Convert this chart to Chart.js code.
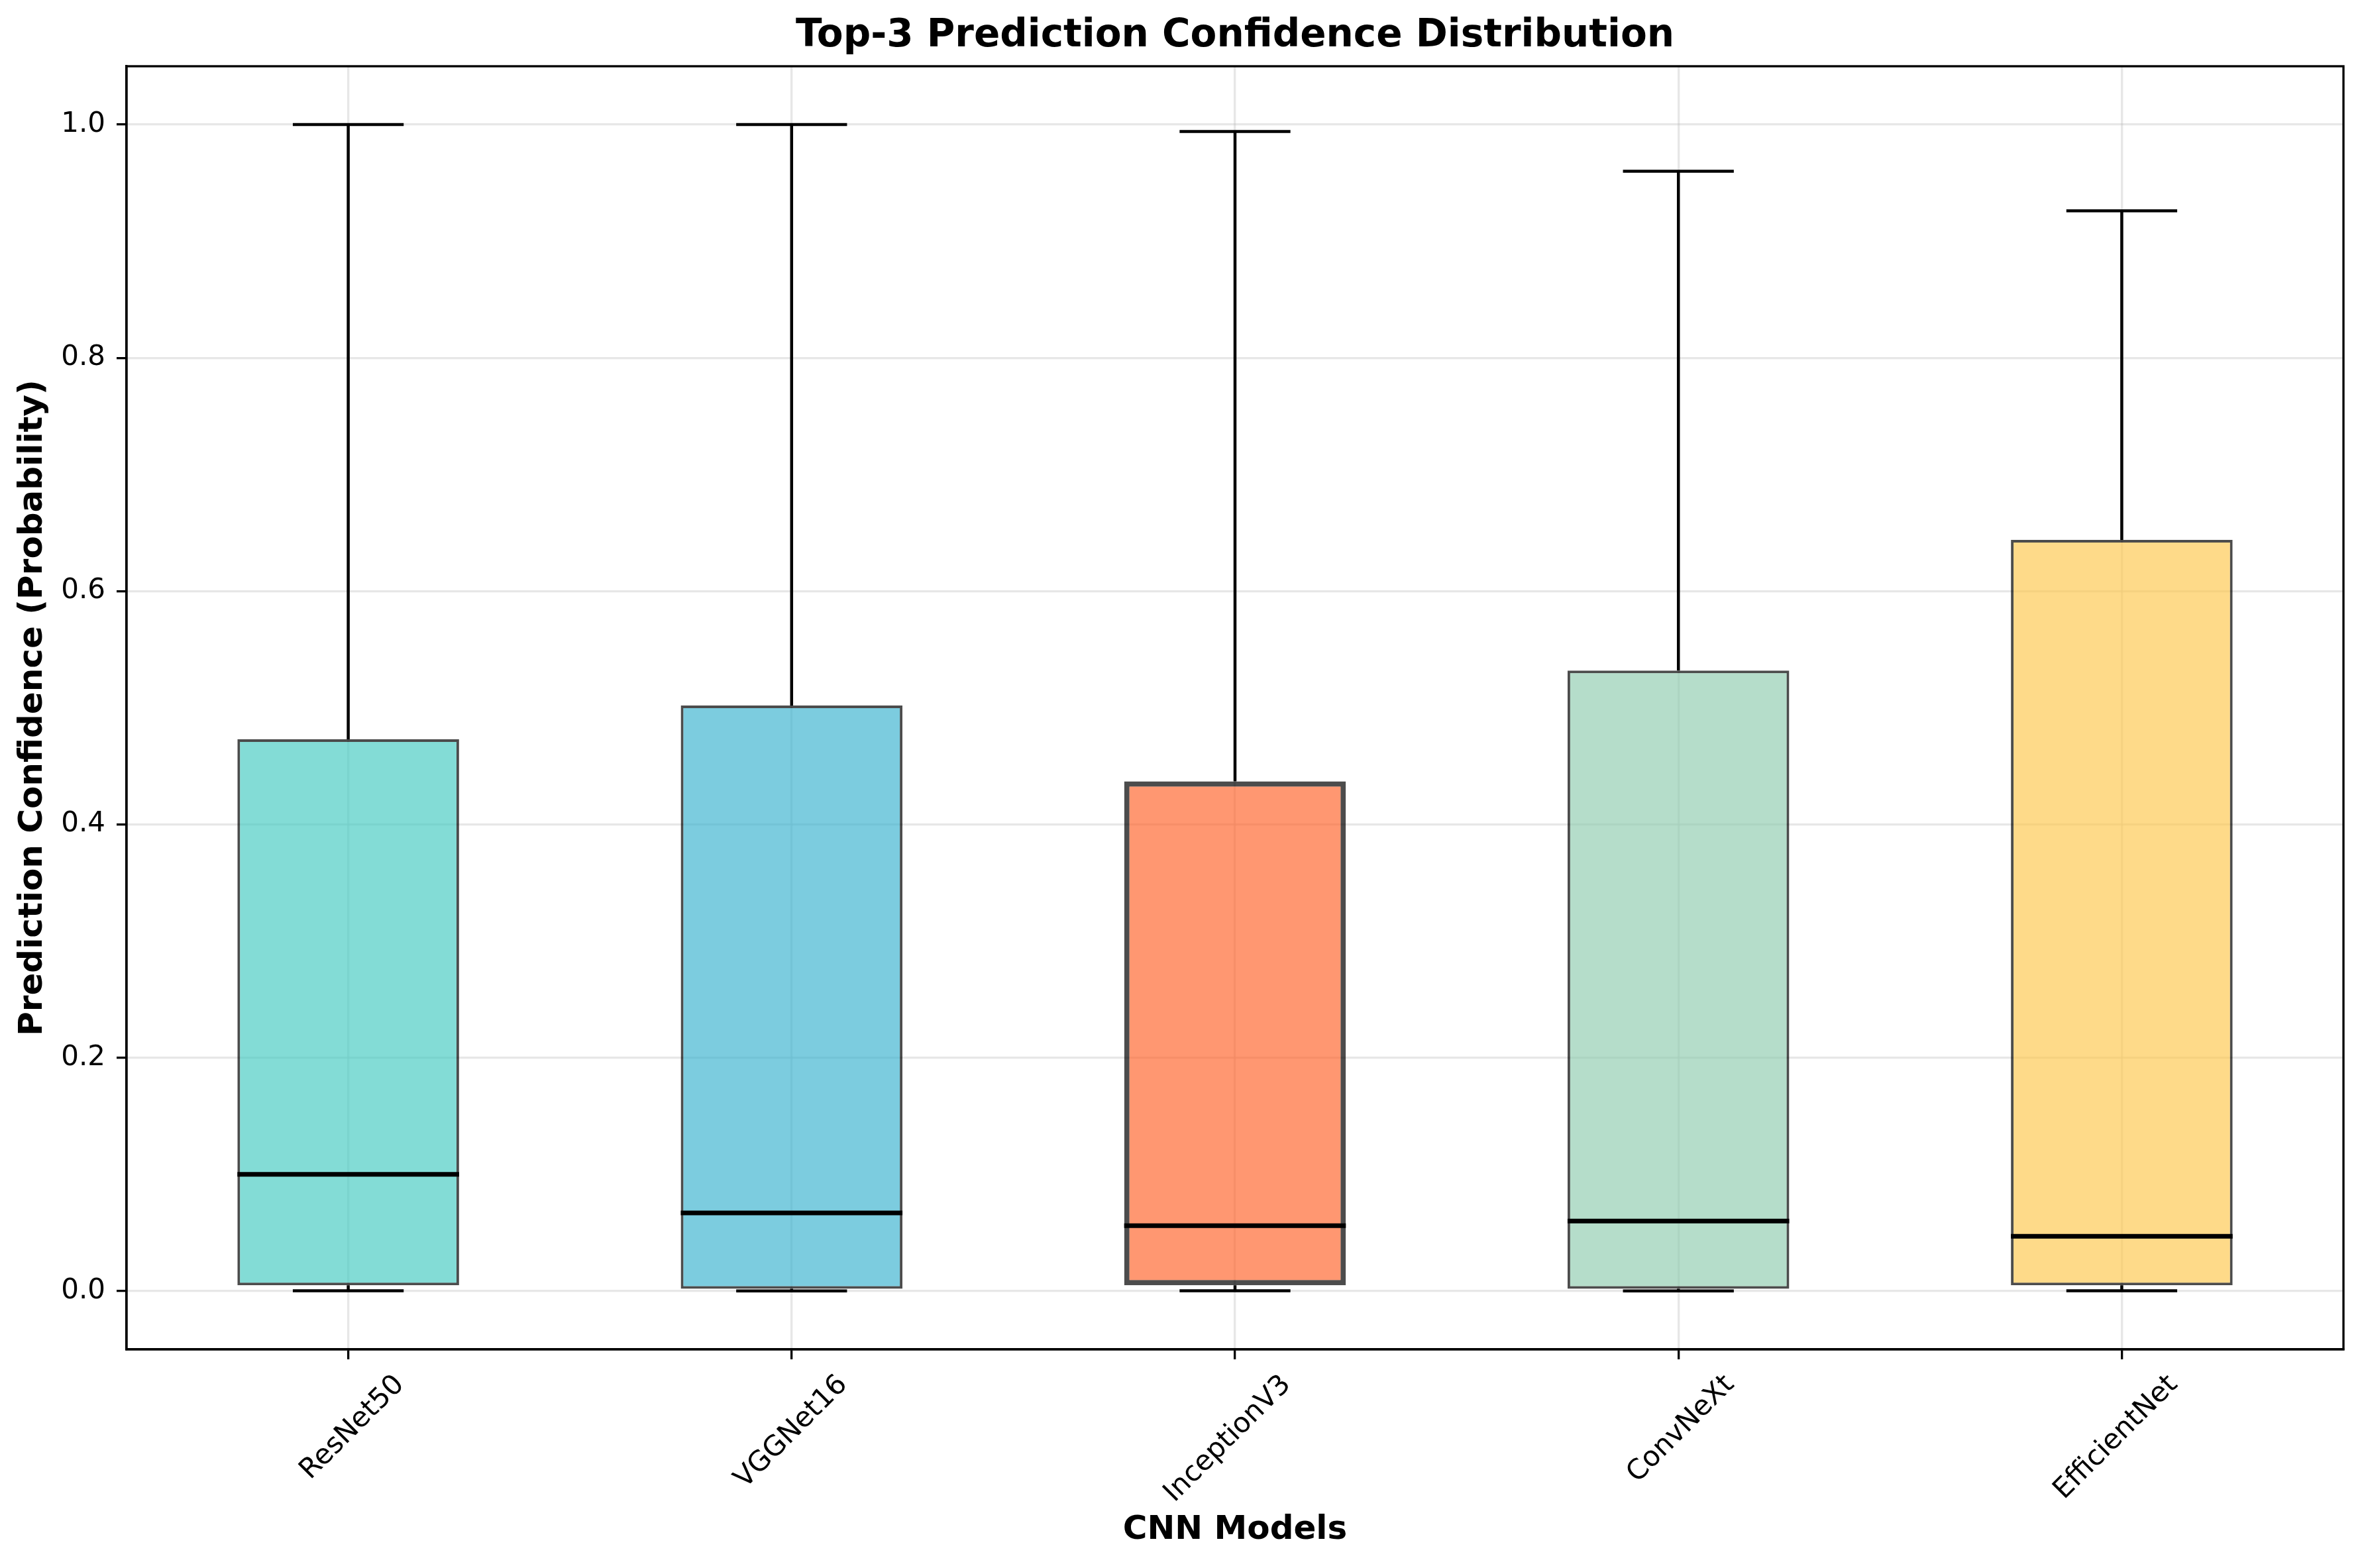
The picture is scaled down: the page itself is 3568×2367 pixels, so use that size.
<!DOCTYPE html>
<html>
<head>
<meta charset="utf-8">
<script src="https://cdn.jsdelivr.net/npm/chart.js@4.4.1/dist/chart.umd.min.js"></script>
<style>
  html, body { margin: 0; padding: 0; background: #fff; }
  #wrap { width: 3568px; height: 2367px; }
</style>
</head>
<body>
<div id="wrap"><canvas id="chart" width="3568" height="2367"></canvas></div>
<script>
// box plot summary
const models  = ['ResNet50', 'VGGNet16', 'InceptionV3', 'ConvNeXt', 'EfficientNet'];
const mins    = [0.0002, 0.0001, 0.0002, 0.0001, 0.0003];
const q1s     = [0.005, 0.002, 0.005, 0.002, 0.005];
const medians = [0.100, 0.067, 0.056, 0.060, 0.047];
const q3s     = [0.473, 0.502, 0.437, 0.532, 0.644];
const maxs    = [1.000, 1.000, 0.994, 0.960, 0.926];
const yTicks  = [0.0, 0.2, 0.4, 0.6, 0.8, 1.0];
const chartTitle = 'Top-3 Prediction Confidence Distribution';

const fills = ['rgba(78,205,196,0.7)', 'rgba(69,183,209,0.7)', 'rgba(255,107,53,0.7)',
               'rgba(150,206,180,0.7)', 'rgba(254,202,87,0.7)'];
const edgeWidths = [4, 4, 8, 4, 4];

const boxHalf = 0.25, capHalf = 0.125;
const FONT = "'DejaVu Sans', sans-serif";

function segs(fn){
  const out = [];
  models.forEach((m,i)=>{ out.push(...fn(i)); out.push({x:i, y:null}); });
  return out;
}
const whiskers = segs(i=>[{x:i,y:q3s[i]},{x:i,y:maxs[i]},{x:i,y:null},{x:i,y:q1s[i]},{x:i,y:mins[i]}]);
const caps = segs(i=>[{x:i-capHalf,y:maxs[i]},{x:i+capHalf,y:maxs[i]},{x:i,y:null},
                      {x:i-capHalf,y:mins[i]},{x:i+capHalf,y:mins[i]}]);
const medLines = segs(i=>[{x:i-boxHalf,y:medians[i]},{x:i+boxHalf,y:medians[i]}]);

const lineDs = (label, data, w)=>({
  type:'line', label, data, borderColor:'#000', borderWidth:w, pointRadius:0,
  tension:0, spanGaps:false, borderCapStyle:'butt', order:0
});

// axes frame + title centred over the plot area, like matplotlib
const frame = {
  id:'frame',
  afterDraw(chart){
    const {ctx, chartArea:a} = chart;
    ctx.save();
    ctx.strokeStyle = '#000';
    ctx.lineWidth = 3.3;
    ctx.strokeRect(a.left, a.top, a.right-a.left, a.bottom-a.top);
    ctx.fillStyle = '#000';
    ctx.font = 'bold 58px ' + FONT;
    ctx.textAlign = 'center';
    ctx.textBaseline = 'middle';
    ctx.fillText(chartTitle, (a.left+a.right)/2, 55);
    ctx.restore();
  }
};

const gridOpts = { color:'rgba(176,176,176,0.3)', lineWidth:3.3, tickColor:'#000', tickLength:15, tickWidth:3.3, offset:false };

new Chart(document.getElementById('chart'), {
  type:'bar',
  data:{
    datasets:[
      lineDs('medians', medLines, 7),
      lineDs('whiskers', whiskers, 4.5),
      lineDs('caps', caps, 4.5),
      {
        label:'IQR',
        data: models.map((m,i)=>({x:i, y:[q1s[i], q3s[i]]})),
        backgroundColor: fills,
        borderColor:'rgba(0,0,0,0.7)',
        borderWidth: edgeWidths,
        borderSkipped:false,
        barPercentage:0.5,
        categoryPercentage:1,
        order:1
      }
    ]
  },
  options:{
    responsive:false,
    devicePixelRatio:1,
    animation:false,
    layout:{ padding:{ left:0, right:31, top:100, bottom:0 } },
    plugins:{
      legend:{ display:false },
      tooltip:{ enabled:false },
      title:{ display:false }
    },
    scales:{
      x:{
        type:'linear',
        offset:false,
        min:-0.5, max:4.5,
        afterBuildTicks(s){ s.ticks = models.map((m,i)=>({value:i})); },
        afterFit(s){ s.height = 330; },
        ticks:{
          callback:(v)=>models[v],
          color:'#000',
          font:{ family:FONT, size:42 },
          maxRotation:45, minRotation:45,
          autoSkip:false,
          labelOffset:78,
          padding:14
        },
        grid:gridOpts,
        border:{ color:'#000', width:3.3 },
        title:{
          display:true, text:'CNN Models', color:'#000',
          font:{ family:FONT, size:50, weight:'bold', lineHeight:1.2 },
          padding:{ top:0, bottom:27 }
        }
      },
      y:{
        min:-0.05, max:1.05,
        afterBuildTicks(s){ s.ticks = yTicks.map(v=>({value:v})); },
        afterFit(s){ s.width = 191; },
        ticks:{
          callback:(v)=>v.toFixed(1),
          color:'#000',
          font:{ family:FONT, size:42 },
          padding:17
        },
        grid:gridOpts,
        border:{ color:'#000', width:3.3 },
        title:{
          display:true, text:'Prediction Confidence (Probability)', color:'#000',
          font:{ family:FONT, size:50, weight:'bold', lineHeight:1.2 },
          padding:{ top:20, bottom:0 }
        }
      }
    }
  },
  plugins:[frame]
});
</script>
</body>
</html>
